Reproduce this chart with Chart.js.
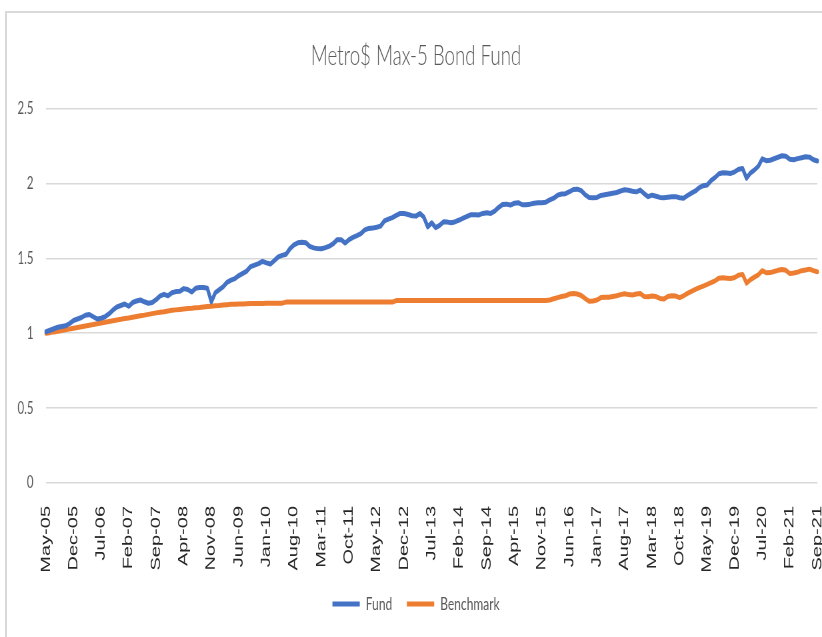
<!DOCTYPE html>
<html>
<head>
<meta charset="utf-8">
<title>Metro$ Max-5 Bond Fund</title>
<script src="https://cdn.jsdelivr.net/npm/chart.js@4.4.1/dist/chart.umd.min.js"></script>
<style>
  html, body { margin: 0; padding: 0; background: #fff; overflow: hidden; }
  #frame { position: absolute; left: 5px; top: 11px; width: 830px; height: 640px; border-left: 2px solid #d9d9d9; border-top: 2px solid #d9d9d9; }
  /* the reference is squeezed horizontally, so draw wide and scale down */
  #wrap { position: absolute; left: 0; top: 0; width: 1233px; height: 637px; transform: scaleX(0.6667); transform-origin: 0 0; }
</style>
</head>
<body>
<div id="frame"></div>
<div id="wrap"><canvas id="chart" width="1233" height="637" style="width:1233px;height:637px"></canvas></div>
<script>
// monthly categories May-05 .. Sep-21
const monthNames = ['Jan','Feb','Mar','Apr','May','Jun','Jul','Aug','Sep','Oct','Nov','Dec'];
const months = [];
for (let m = 4; m <= 4 + 196; m++) {
  const yy = 5 + Math.floor(m / 12);
  months.push(monthNames[m % 12] + '-' + (yy < 10 ? '0' + yy : '' + yy));
}
const labelEvery = 7;
const yTicks = [0, 0.5, 1, 1.5, 2, 2.5];

const fund = [
  1.01,1.02,1.03,1.04,1.045,1.05,1.065,1.085,1.095,1.105,
  1.12,1.125,1.11,1.095,1.10,1.11,1.13,1.155,1.175,1.185,
  1.195,1.18,1.205,1.215,1.222,1.21,1.20,1.205,1.225,1.25,
  1.26,1.25,1.27,1.278,1.28,1.298,1.292,1.275,1.30,1.305,
  1.305,1.30,1.21,1.27,1.29,1.31,1.34,1.355,1.365,1.385,
  1.40,1.415,1.445,1.455,1.465,1.48,1.47,1.462,1.485,1.51,
  1.52,1.527,1.565,1.59,1.604,1.608,1.605,1.58,1.57,1.565,
  1.564,1.572,1.582,1.598,1.625,1.625,1.602,1.625,1.64,1.652,
  1.665,1.69,1.70,1.702,1.708,1.715,1.75,1.762,1.772,1.787,
  1.80,1.80,1.793,1.785,1.782,1.80,1.775,1.71,1.738,1.705,
  1.72,1.744,1.742,1.738,1.745,1.756,1.768,1.78,1.792,1.792,
  1.79,1.80,1.804,1.80,1.815,1.84,1.86,1.862,1.856,1.868,
  1.872,1.858,1.858,1.862,1.868,1.872,1.872,1.875,1.89,1.902,
  1.922,1.93,1.932,1.945,1.96,1.962,1.952,1.925,1.907,1.905,
  1.907,1.92,1.925,1.93,1.935,1.94,1.95,1.958,1.955,1.948,
  1.944,1.956,1.932,1.912,1.922,1.915,1.907,1.905,1.908,1.911,
  1.912,1.905,1.902,1.92,1.936,1.95,1.972,1.985,1.99,2.02,
  2.04,2.065,2.072,2.07,2.067,2.078,2.095,2.10,2.035,2.07,
  2.09,2.115,2.165,2.152,2.155,2.165,2.175,2.185,2.182,2.162,
  2.158,2.166,2.172,2.178,2.176,2.158,2.15
];

const benchmark = [
  1.000,1.004,1.009,1.013,1.018,1.023,1.029,1.034,1.039,1.044,
  1.049,1.054,1.058,1.063,1.068,1.074,1.079,1.084,1.089,1.093,
  1.098,1.102,1.107,1.112,1.117,1.121,1.126,1.131,1.136,1.140,
  1.144,1.149,1.153,1.156,1.159,1.162,1.165,1.167,1.170,1.172,
  1.175,1.178,1.181,1.184,1.186,1.189,1.191,1.193,1.194,1.195,
  1.196,1.197,1.198,1.198,1.199,1.199,1.200,1.200,1.200,1.200,
  1.201,1.208,1.208,1.208,1.208,1.208,1.208,1.208,1.208,1.208,
  1.208,1.208,1.208,1.208,1.208,1.208,1.208,1.208,1.208,1.208,
  1.208,1.208,1.208,1.208,1.208,1.208,1.208,1.208,1.208,1.218,
  1.218,1.218,1.218,1.218,1.218,1.218,1.218,1.218,1.218,1.218,
  1.218,1.218,1.218,1.218,1.218,1.218,1.218,1.218,1.218,1.218,
  1.218,1.218,1.218,1.218,1.218,1.218,1.218,1.218,1.218,1.218,
  1.218,1.218,1.218,1.218,1.218,1.218,1.218,1.218,1.222,1.23,
  1.238,1.245,1.25,1.262,1.266,1.262,1.252,1.232,1.214,1.215,
  1.222,1.238,1.24,1.24,1.245,1.25,1.258,1.264,1.258,1.255,
  1.262,1.265,1.246,1.244,1.249,1.245,1.232,1.228,1.245,1.25,
  1.248,1.238,1.25,1.266,1.28,1.293,1.305,1.315,1.326,1.338,
  1.35,1.368,1.37,1.368,1.366,1.372,1.388,1.393,1.335,1.358,
  1.375,1.39,1.418,1.404,1.405,1.412,1.42,1.426,1.42,1.398,
  1.402,1.408,1.418,1.422,1.428,1.418,1.41
];

const gray = '#595959';

new Chart(document.getElementById('chart'), {
  type: 'line',
  data: {
    labels: months,
    datasets: [
      { label: 'Fund', data: fund, borderColor: '#4472C4', backgroundColor: '#4472C4',
        borderWidth: 5, pointRadius: 0, tension: 0, borderJoinStyle: 'round', borderCapStyle: 'round' },
      { label: 'Benchmark', data: benchmark, borderColor: '#ED7D31', backgroundColor: '#ED7D31',
        borderWidth: 5, pointRadius: 0, tension: 0, borderJoinStyle: 'round', borderCapStyle: 'round' }
    ]
  },
  options: {
    responsive: false,
    animation: false,
    layout: { padding: { top: 12, right: 7, bottom: 14, left: 22 } },
    plugins: {
      title: {
        display: true,
        text: 'Metro$ Max-5 Bond Fund',
        color: gray,
        font: { family: 'Lato', size: 28, weight: '300', lineHeight: 1.2 },
        padding: { top: 27, bottom: 36 }
      },
      legend: {
        position: 'bottom',
        labels: {
          boxWidth: 41, boxHeight: 5, padding: 22, color: gray,
          font: { family: 'Lato', size: 18 },
          generateLabels: chart => Chart.defaults.plugins.legend.labels.generateLabels(chart)
            .map(item => Object.assign(item, { fillStyle: item.strokeStyle, lineWidth: 0 }))
        }
      },
      tooltip: { enabled: false }
    },
    scales: {
      x: {
        grid: { display: false },
        border: { display: false },
        ticks: {
          autoSkip: false, minRotation: 90, maxRotation: 90, padding: 15,
          color: '#262626', font: { family: 'Liberation Sans', size: 20 },
          callback: function (v, i) { return i % labelEvery === 0 ? this.getLabelForValue(v) : ''; }
        },
        afterFit: s => { s.height = 90; s.paddingLeft = 0; s.paddingRight = 0; }
      },
      y: {
        min: 0, max: 2.5,
        afterBuildTicks: s => { s.ticks = yTicks.map(v => ({ value: v })); },
        ticks: { padding: 19, color: gray, font: { family: 'Lato', size: 17 }, callback: v => String(v) },
        grid: { color: '#d9d9d9', lineWidth: 1.5, drawTicks: false },
        border: { display: false },
        afterFit: s => { s.width = 47; }
      }
    }
  }
});
</script>
</body>
</html>
